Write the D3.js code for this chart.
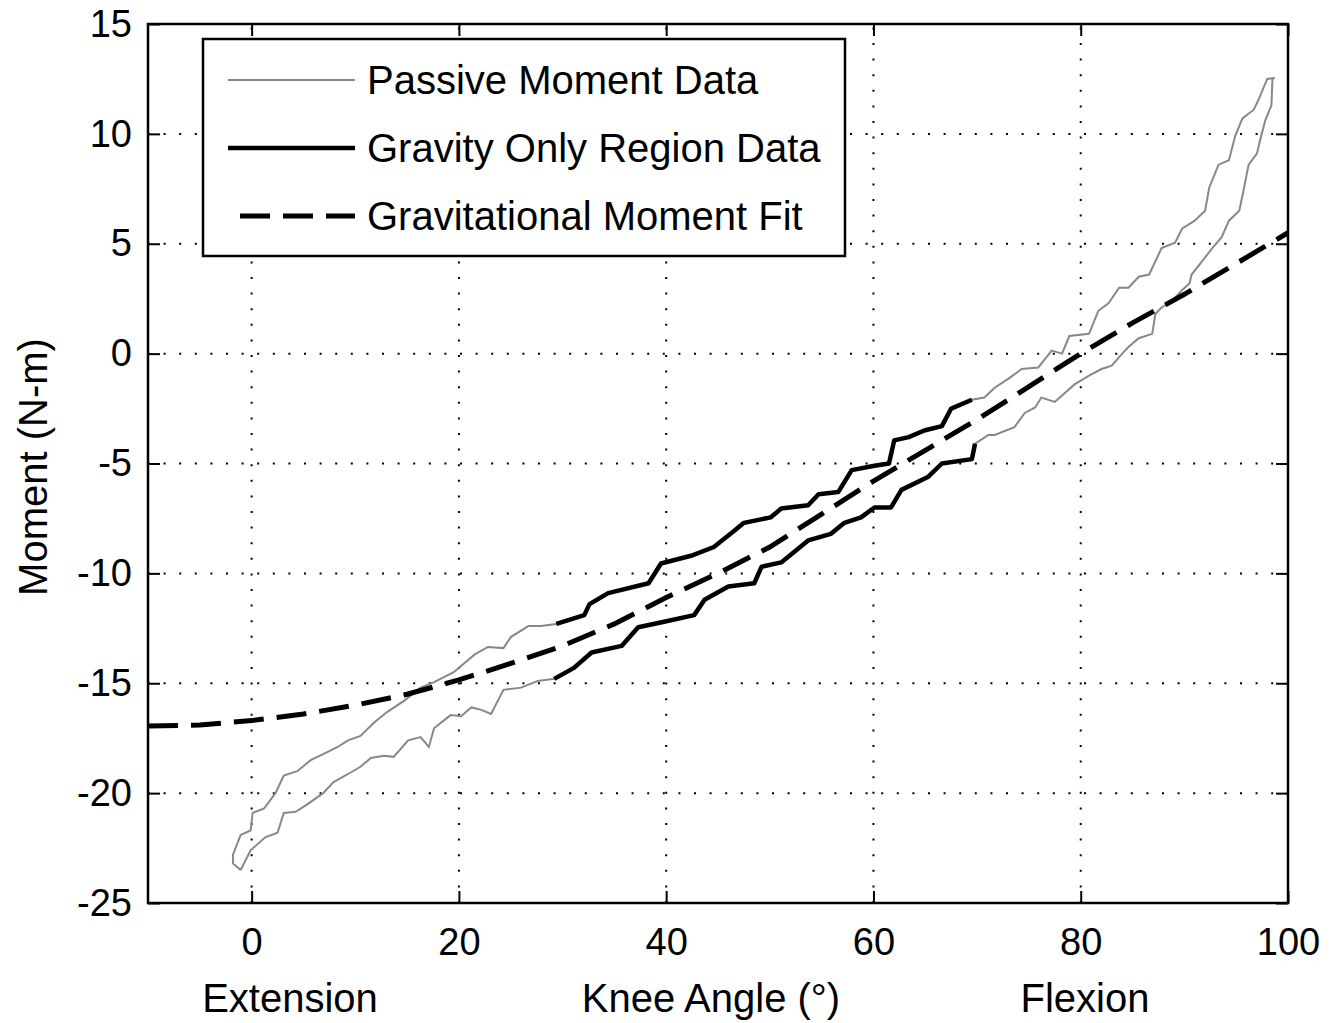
<!DOCTYPE html>
<html>
<head>
<meta charset="utf-8">
<script src="https://cdn.jsdelivr.net/npm/d3@7"></script>
<style>
  body { margin: 0; background: #fff; }
  text { font-family: "Liberation Sans", Arial, sans-serif; fill: #000; }
</style>
</head>
<body>
<script>
// passive moment data: upper branch of the loop
let upperAngle = [-1.06, -1.8, -1.8, -1.06, -0.1, 0.1, 1.2, 2.3, 3.1, 4.4, 5.7, 7.0, 8.3, 9.3, 10.5, 11.8, 13.1, 14.7, 16.3, 17.6, 19.5, 21.5, 22.8, 24.3, 25.0, 26.7, 27.9,
  29.4, 32.1, 32.6, 34.4, 38.3, 39.5, 42.4, 44.6, 46.6, 47.5, 50.1, 51.1, 53.7, 54.7, 56.6, 57.9, 60.1, 61.5, 62.0, 63.4, 64.9, 66.6, 67.5, 69.5,
  70.7, 71.7, 73.0, 74.3, 75.9, 77.2, 78.2, 78.9, 80.8, 81.7, 82.7, 83.7, 84.6, 85.6, 86.6, 87.8, 89.1, 89.8, 91.0, 92.0, 92.4, 93.3, 94.3, 94.9, 95.6, 96.7, 97.2, 98.0, 98.7];
let upperMoment = [-23.5, -23.2, -22.8, -21.9, -21.7, -20.9, -20.7, -20.0, -19.2, -19.0, -18.5, -18.2, -17.9, -17.6, -17.4, -16.8, -16.3, -15.8, -15.2, -14.95, -14.5, -13.7, -13.35, -13.4, -12.9, -12.4, -12.4,
  -12.3, -11.9, -11.4, -10.9, -10.45, -9.55, -9.2, -8.8, -8.05, -7.7, -7.45, -7.05, -6.9, -6.4, -6.3, -5.3, -5.1, -5.0, -3.95, -3.8, -3.5, -3.3, -2.5, -2.1,
  -2.0, -1.55, -1.15, -0.7, -0.63, 0.14, 0.0, 0.8, 0.9, 1.95, 2.3, 3.0, 3.0, 3.5, 3.6, 4.8, 5.05, 5.7, 6.05, 6.5, 7.55, 8.6, 8.8, 9.9, 10.7, 11.1, 11.6, 12.5, 12.55];

// lower branch of the loop
let lowerAngle = [-1.06, -0.1, 1.35, 2.5, 3.1, 4.25, 5.4, 6.9, 7.9, 9.6, 10.5, 11.5, 12.75, 13.7, 15.1, 16.3, 17.1, 17.6, 19.2, 20.2, 21.2, 22.1, 23.1, 24.3, 26.0, 27.6,
  29.2, 31.1, 32.8, 35.7, 37.3, 39.8, 42.7, 43.7, 46.0, 48.5, 49.2, 51.1, 53.7, 55.9, 57.2, 58.8, 60.1, 61.7, 62.7, 65.3, 66.6, 69.5,
  69.8, 71.1, 71.7, 73.6, 74.6, 75.6, 76.2, 77.5, 79.4, 80.8, 82.0, 83.0, 84.0, 84.6, 85.6, 86.9, 87.2, 87.8, 88.8, 89.8, 90.5, 90.7, 91.7, 92.7, 93.6, 94.3, 95.3, 95.7, 96.2, 97.0, 97.3, 97.8, 98.4, 98.5, 98.7];
let lowerMoment = [-23.5, -22.6, -22.0, -21.8, -20.9, -20.85, -20.5, -20.0, -19.5, -19.05, -18.8, -18.4, -18.3, -18.35, -17.6, -17.45, -17.9, -17.05, -16.45, -16.5, -16.1, -16.2, -16.4, -15.3, -15.2, -14.9,
  -14.8, -14.3, -13.6, -13.3, -12.45, -12.2, -11.9, -11.2, -10.6, -10.45, -9.7, -9.5, -8.5, -8.2, -7.7, -7.45, -7.0, -7.0, -6.2, -5.6, -5.0, -4.8,
  -4.1, -3.7, -3.7, -3.35, -2.7, -2.45, -2.0, -2.2, -1.4, -1.0, -0.7, -0.55, 0.0, 0.3, 0.7, 0.9, 1.8, 2.1, 2.4, 2.9, 3.2, 3.6, 4.2, 4.8, 5.3, 6.05, 6.5, 7.4, 8.6, 9.1, 9.7, 10.6, 11.3, 12.5, 12.55];

// gravity only region is the 30..70 degree part of the data
let gravityFrom = 29;
let gravityTo = 70;

// gravitational moment fit
let fitAngle = [-10, -5, 0, 5, 10, 15, 20, 25, 30, 35, 40, 45, 50, 55, 60, 65, 70, 75, 80, 85, 90, 95, 100];
let fitMoment = [-16.95, -16.9, -16.7, -16.4, -16.0, -15.5, -14.85, -14.1, -13.3, -12.3, -11.1, -10.0, -8.8, -7.3, -5.8, -4.4, -3.0, -1.5, 0.0, 1.4, 2.7, 4.1, 5.5];

let xTicks = [0, 20, 40, 60, 80, 100];
let yTicks = [-25, -20, -15, -10, -5, 0, 5, 10, 15];
let legendLabels = ["Passive Moment Data", "Gravity Only Region Data", "Gravitational Moment Fit"];


function pairs(a, m) {
  return a.map(function(d, i){ return [d, m[i]]; });
}

let upper = pairs(upperAngle, upperMoment);
let lower = pairs(lowerAngle, lowerMoment);
let loop = upper.concat(lower.slice().reverse());
let inGravity = function(d){ return d[0] >= gravityFrom && d[0] <= gravityTo; };
let fit = pairs(fitAngle, fitMoment);

let plotLeft = 148, plotRight = 1288, plotTop = 24, plotBottom = 903;

let x = d3.scaleLinear().domain([-10, 100]).range([plotLeft, plotRight]);
let y = d3.scaleLinear().domain([-25, 15]).range([plotBottom, plotTop]);

let viz = d3.select("body")
  .append("svg")
    .attr("width", 1337)
    .attr("height", 1023)
;

// dotted grid
let grid = viz.append("g")
  .attr("stroke", "#000")
  .attr("stroke-width", 2)
  .attr("stroke-dasharray", "2,13.6");

grid.selectAll("line.v").data(xTicks.filter(function(d){ return d < 100; }))
  .enter()
    .append("line")
    .attr("x1", function(d){ return x(d); })
    .attr("x2", function(d){ return x(d); })
    .attr("y1", plotBottom)
    .attr("y2", plotTop)
;
grid.selectAll("line.h").data(yTicks.filter(function(d){ return d > -25 && d < 15; }))
  .enter()
    .append("line")
    .attr("y1", function(d){ return y(d); })
    .attr("y2", function(d){ return y(d); })
    .attr("x1", plotLeft)
    .attr("x2", plotRight)
;

let line = d3.line()
  .x(function(d){ return x(d[0]); })
  .y(function(d){ return y(d[1]); });

viz.append("path")
  .datum(loop)
  .attr("d", line)
  .attr("fill", "none")
  .attr("stroke", "#888")
  .attr("stroke-width", 2)
;

[upper, lower].forEach(function(branch){
  viz.append("path")
    .datum(branch.filter(inGravity))
    .attr("d", line)
    .attr("fill", "none")
    .attr("stroke", "#000")
    .attr("stroke-width", 4.5)
    .attr("stroke-linejoin", "round")
  ;
});

viz.append("path")
  .datum(fit)
  .attr("d", line)
  .attr("fill", "none")
  .attr("stroke", "#000")
  .attr("stroke-width", 5)
  .attr("stroke-dasharray", "30,13")
;

// axes, ticks inward on all four sides
let xAxis = d3.axisBottom(x).tickValues(xTicks).tickSize(-12).tickPadding(25).tickFormat(function(d){ return String(d); });
let yAxis = d3.axisLeft(y).tickValues(yTicks).tickSize(-12).tickPadding(16).tickFormat(function(d){ return String(d); });

let gx = viz.append("g").attr("transform", "translate(0," + plotBottom + ")").call(xAxis);
let gy = viz.append("g").attr("transform", "translate(" + plotLeft + ",0)").call(yAxis);
let gxt = viz.append("g").attr("transform", "translate(0," + plotTop + ")").call(d3.axisTop(x).tickValues(xTicks).tickSize(-12).tickFormat(""));
let gyr = viz.append("g").attr("transform", "translate(" + plotRight + ",0)").call(d3.axisRight(y).tickValues(yTicks).tickSize(-12).tickFormat(""));

[gx, gy, gxt, gyr].forEach(function(g){
  g.select(".domain").remove();
  g.selectAll(".tick line").attr("stroke", "#000").attr("stroke-width", 2);
  g.selectAll("text").style("font-size", "38px").attr("font-family", null);
});

viz.append("rect")
  .attr("x", plotLeft)
  .attr("y", plotTop)
  .attr("width", plotRight - plotLeft)
  .attr("height", plotBottom - plotTop)
  .attr("fill", "none")
  .attr("stroke", "#000")
  .attr("stroke-width", 2.5)
;

// axis labels
viz.append("text").attr("x", 290).attr("y", 1012).attr("text-anchor", "middle").style("font-size", "40px").text("Extension");
viz.append("text").attr("x", 711).attr("y", 1012).attr("text-anchor", "middle").style("font-size", "40px").text("Knee Angle (°)");
viz.append("text").attr("x", 1085).attr("y", 1012).attr("text-anchor", "middle").style("font-size", "40px").text("Flexion");
viz.append("text")
  .attr("transform", "translate(47,467) rotate(-90)")
  .attr("text-anchor", "middle")
  .style("font-size", "40px")
  .text("Moment (N-m)")
;

// legend
let legend = viz.append("g");
legend.append("rect")
  .attr("x", 203).attr("y", 39).attr("width", 642).attr("height", 217)
  .attr("fill", "#fff").attr("stroke", "#000").attr("stroke-width", 2.5);

let legendRows = [
  { label: legendLabels[0], stroke: "#888", width: 2, dash: null },
  { label: legendLabels[1], stroke: "#000", width: 4.5, dash: null },
  { label: legendLabels[2], stroke: "#000", width: 5, dash: "30,13" }
];

legend.selectAll("g.row").data(legendRows)
  .enter()
    .append("g")
    .attr("transform", function(d, i){ return "translate(0," + (80 + i * 68) + ")"; })
    .each(function(d){
      let row = d3.select(this);
      row.append("line")
        .attr("x1", d.dash ? 240 : 228).attr("x2", 355)
        .attr("stroke", d.stroke).attr("stroke-width", d.width)
        .attr("stroke-dasharray", d.dash);
      row.append("text")
        .attr("x", 367).attr("y", 14)
        .style("font-size", "40px")
        .text(d.label);
    })
;
</script>
</body>
</html>
